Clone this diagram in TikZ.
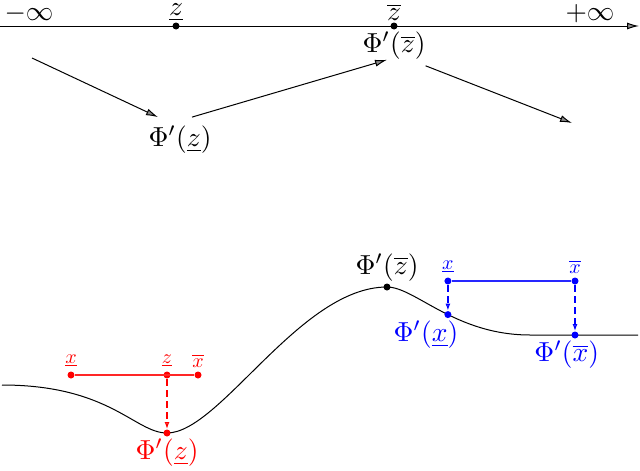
\documentclass[tikz,border=0pt]{standalone}
\usetikzlibrary{arrows.meta, positioning}

\begin{document}
\begin{tikzpicture}[x=1pt, y=-1pt, line width=1pt,
  tip/.style={-{Latex[length=12pt,width=7pt,fill=black!45]}},
  dtip/.style={line width=1.2pt, dash pattern=on 7pt off 4pt, -{Latex[length=7pt,width=5pt,open]}},
  dot/.style={circle, fill, inner sep=0pt, minimum size=7pt},
  big/.style={scale=2.75, inner sep=1pt},
  lab/.style={scale=2, inner sep=1pt}]
\useasboundingbox (0,0) rectangle (640,471);
% top: the axis and the variation of Phi'
\coordinate (left) at (0,26);
\coordinate (right) at (639,26);
\draw[tip] (left) -- (right);
\node[big] (minf) at (29,14) {$-\infty$};
\node[big] (pinf) at (590,14) {$+\infty$};
\node[dot] (zlo) at (176,26) {};
\node[dot] (zhi) at (394,26) {};
\node[big] (zlolab) [above=-3pt of zlo] {$\underline{z}$};
\node[big] (zhilab) [above=-3pt of zhi] {$\overline{z}$};
\node[big] (hi) [below=-2pt of zhi] {$\Phi'(\overline{z})$};
\node[big] (lo) at (180,140) {$\Phi'(\underline{z})$};
\coordinate (a1) at (32,58);
\coordinate (a3) at (572,123);
\draw[tip] (a1) -- ([xshift=-22pt,yshift=5pt]lo.north);
\draw[tip] ([xshift=12pt,yshift=5pt]lo.north) -- ([xshift=-7pt,yshift=4pt]hi.south);
\draw[tip] ([xshift=-4pt,yshift=-2pt]hi.south east) -- (a3);
% bottom: the graph of Phi'
\draw (2,385) .. controls (110,385) and (135,433) .. (167,433) coordinate (min)
  .. controls (220,433) and (300,287) .. (387,287) coordinate (max)
  .. controls (415,287) and (455,335) .. (530,335) coordinate[pos=0.55] (fx)
  -- (638,335);
\node[dot] (zmax) at (max) {};
\node[big] (zmaxlab) [above=-2pt of zmax] {$\Phi'(\overline{z})$};
% red interval
\node[dot, red] (rxlo) at (71,375) {};
\node[dot, red] (rz) at (167,375) {};
\node[dot, red] (rxhi) at (198,375) {};
\node[dot, red] (rmin) at (min) {};
\draw[red!85, line width=1.3pt] (rxlo) -- (rxhi);
\draw[red, dtip] (rz) -- (rmin);
\node[lab, red] (rxlolab) [above=1pt of rxlo] {$\underline{x}$};
\node[lab, red] (rzlab) [above=1pt of rz] {$\underline{z}$};
\node[lab, red] (rxhilab) [above=1pt of rxhi] {$\overline{x}$};
\node[big, red] (rminlab) [below=-2pt of rmin] {$\Phi'(\underline{z})$};
% blue interval
\node[dot, blue] (bxlo) at (fx |- 0,281) {};
\node[dot, blue] (bxhi) at (575,281) {};
\node[dot, blue] (bfxlo) at (fx) {};
\node[dot, blue] (bfxhi) at (575,335) {};
\draw[blue!85, line width=1.3pt] (bxlo) -- (bxhi);
\draw[blue, dtip] (bxlo) -- (bfxlo);
\draw[blue, dtip] (bxhi) -- (bfxhi);
\node[lab, blue] (bxlolab) [above=1pt of bxlo] {$\underline{x}$};
\node[lab, blue] (bxhilab) [above=1pt of bxhi] {$\overline{x}$};
\node[big, blue] (bfxlolab) [below=-2pt of bfxlo, xshift=-8pt] {$\Phi'(\underline{x})$};
\node[big, blue] (bfxhilab) [below=-2pt of bfxhi, xshift=-3pt] {$\Phi'(\overline{x})$};
\end{tikzpicture}
\end{document}
